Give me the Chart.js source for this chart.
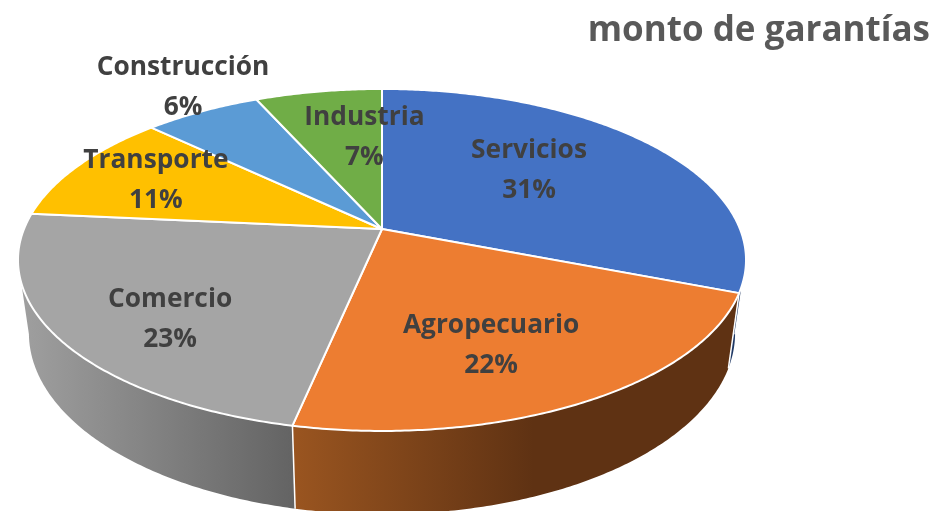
<!DOCTYPE html>
<html>
<head>
<meta charset="utf-8">
<title>monto de garantías</title>
<script src="https://cdn.jsdelivr.net/npm/chart.js@4"></script>
<style>
  html, body { margin: 0; background: #fff; overflow: hidden; }
  canvas { display: block; }
</style>
</head>
<body>
<canvas id="pieChart" width="938" height="511"></canvas>
<script>
const categories = ['Servicios', 'Agropecuario', 'Comercio', 'Transporte', 'Construcción', 'Industria'];
const shares = [30.9, 22.4, 23.2, 10.6, 6.2, 6.7];
const sliceColors = ['#4472C4', '#ED7D31', '#A5A5A5', '#FFC000', '#5B9BD5', '#70AD47'];
const wallColors = [['#1F3864', '#1F3864'], ['#9A5520', '#5F3213'], ['#A0A0A0', '#636363'],
  ['#7F6000', '#7F6000'], ['#2E75B6', '#2E75B6'], ['#385723', '#385723']];
const chartTitle = 'monto de garantías';

// the pie is seen in perspective, so the centre is not in the middle of the ellipse
const view = { x: 382, y: 229, a: 358, b: 165.4, q: 0.181 };
const wall = { shrink: 0.97, drop: 73.2, stretch: 0.059, midY: 260 };
const frontFrom = Math.PI * 0.06;   // where the wall starts to show
const frontTo = Math.PI * 0.94;
const labelNudge = [[-20, -6], [-4, 20], [-27, 28], [-39, -9], [-85, -67], [23, -4]];

function project(angle, r = 1) {
  const u = Math.cos(angle) * r;
  const v = Math.sin(angle) * r;
  const w = 1 - view.q * v;
  return { x: view.x + view.a * u / w, y: view.y + view.b * v / w };
}

function dropToBase(p) {
  return {
    x: view.x + (p.x - view.x) * wall.shrink,
    y: p.y + wall.drop + wall.stretch * (p.y - wall.midY)
  };
}

function rimPoints(start, end) {
  const steps = Math.max(2, Math.ceil((end - start) / 0.01));
  const pts = [];
  for (let i = 0; i <= steps; i++) pts.push(project(start + (end - start) * i / steps));
  return pts;
}

function drawWall(ctx, arc, i) {
  const start = Math.max(arc.startAngle, frontFrom);
  const end = Math.min(arc.endAngle, frontTo);
  if (end <= start) return;

  const top = rimPoints(start, end);
  const base = top.map(dropToBase);
  const xs = top.concat(base).map(p => p.x);
  const left = Math.min(...xs);
  const right = Math.max(...xs);
  const grad = ctx.createLinearGradient(left, 0, right, 0);
  grad.addColorStop(0, wallColors[i][0]);
  // orange wall is already at its darkest about half way along
  grad.addColorStop(i === 1 ? 0.54 : 1, wallColors[i][1]);

  ctx.beginPath();
  top.forEach((p, n) => n ? ctx.lineTo(p.x, p.y) : ctx.moveTo(p.x, p.y));
  base.reverse().forEach(p => ctx.lineTo(p.x, p.y));
  ctx.closePath();
  ctx.fillStyle = grad;
  ctx.fill();

  // white seam where this slice's wall begins
  ctx.beginPath();
  ctx.moveTo(top[0].x, top[0].y);
  ctx.lineTo(base[base.length - 1].x, base[base.length - 1].y);
  ctx.strokeStyle = '#fff';
  ctx.lineWidth = 1.5;
  ctx.stroke();
}

function drawTop(ctx, arc, i) {
  ctx.beginPath();
  ctx.moveTo(view.x, view.y);
  rimPoints(arc.startAngle, arc.endAngle).forEach(p => ctx.lineTo(p.x, p.y));
  ctx.closePath();
  ctx.fillStyle = sliceColors[i];
  ctx.fill();
  ctx.strokeStyle = '#fff';
  ctx.lineWidth = 2;
  ctx.lineJoin = 'round';
  ctx.stroke();
}

function drawLabel(ctx, arc, i) {
  const p = project((arc.startAngle + arc.endAngle) / 2, 0.6);
  const x = p.x + labelNudge[i][0];
  const y = p.y + labelNudge[i][1];
  ctx.font = 'bold 26.3px "Open Sans"';
  ctx.fillStyle = '#404040';
  ctx.textAlign = 'center';
  ctx.textBaseline = 'middle';
  ctx.fillText(categories[i], x, y - 20);
  ctx.fillText(Math.round(shares[i]) + '%', x, y + 20);
}

const pie3d = {
  id: 'pie3d',
  beforeDatasetDraw(chart) {
    const ctx = chart.ctx;
    const arcs = chart.getDatasetMeta(0).data;
    ctx.save();
    arcs.forEach((arc, i) => drawWall(ctx, arc, i));
    arcs.forEach((arc, i) => drawTop(ctx, arc, i));
    arcs.forEach((arc, i) => drawLabel(ctx, arc, i));
    ctx.restore();
    return false;
  }
};

new Chart(document.getElementById('pieChart'), {
  type: 'pie',
  data: {
    labels: categories,
    datasets: [{ data: shares, backgroundColor: sliceColors, borderColor: '#fff', borderWidth: 2 }]
  },
  options: {
    responsive: false,
    animation: false,
    layout: { padding: { right: 8 } },
    plugins: {
      legend: { display: false },
      tooltip: { enabled: false },
      title: {
        display: true,
        text: chartTitle,
        align: 'end',
        color: '#595959',
        font: { family: '"Open Sans"', size: 35, weight: 'bold' },
        padding: { top: 10, bottom: 0 }
      }
    }
  },
  plugins: [pie3d]
});
</script>
</body>
</html>
